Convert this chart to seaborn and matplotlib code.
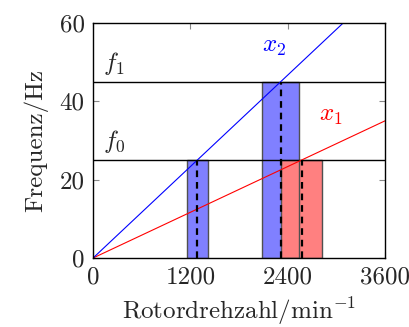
import matplotlib
matplotlib.use("Agg")
import matplotlib.pyplot as plt
import seaborn as sns
import pandas as pd

# data
speed = [0, 3600]              # Rotordrehzahl / min^-1
x1_freq = [0, 35]              # order line x1 (Hz)
x2_freq = [0, 70]              # order line x2 (Hz)
f0 = 25
f1 = 45
res_speed = [1286, 2314, 2571]          # resonance speeds
res_freq = [25, 45, 25]                 # resonance frequencies
res_color = ["#8080FF", "#8080FF", "#FF8080"]
band_rel = 0.10                         # +-10 % band
xticks = [0, 1200, 2400, 3600]
yticks = [0, 20, 40, 60]

sns.set_theme(style="white")
plt.rcParams.update({
    "font.family": "serif",
    "font.serif": ["cmr10", "DejaVu Serif"],
    "mathtext.fontset": "cm",
    "axes.formatter.use_mathtext": True,
    "font.size": 18,
})

FS = 18
fig = plt.figure(figsize=(4.10, 3.27), dpi=100)
ax = fig.add_axes([0.227, 0.211, 0.712, 0.719])

df = pd.DataFrame({"n": speed * 2,
                   "f": x1_freq + x2_freq,
                   "ord": ["x1"] * 2 + ["x2"] * 2})
sns.lineplot(data=df, x="n", y="f", hue="ord", palette={"x1": "red", "x2": "blue"},
             linewidth=0.8, legend=False, ax=ax, zorder=3)

for f in (f0, f1):
    ax.axhline(f, color="black", linewidth=1.0, zorder=2.5)

for i, (n, f, c) in enumerate(zip(res_speed, res_freq, res_color)):
    lo, hi = n * (1 - band_rel), n * (1 + band_rel)
    ax.bar(lo, f, width=hi - lo, align="edge", color=c,
           linewidth=0, zorder=1 + 0.1 * i)
for n, f in zip(res_speed, res_freq):
    lo, hi = n * (1 - band_rel), n * (1 + band_rel)
    ax.bar(lo, f, width=hi - lo, align="edge", facecolor="none",
           edgecolor="#505050", linewidth=1.0, zorder=2)
for n, f in zip(res_speed, res_freq):
    ax.plot([n, n], [0, f], color="black", linewidth=1.6,
            linestyle=(0, (3, 2.2)), zorder=4)

ax.text(120, 46.3, r"$f_1$", fontsize=FS, ha="left", va="bottom")
ax.text(120, 26.3, r"$f_0$", fontsize=FS, ha="left", va="bottom")
ax.text(2226, 53.8, r"$x_2$", fontsize=FS, color="blue", ha="center", va="center")
ax.text(2935, 36.2, r"$x_1$", fontsize=FS, color="red", ha="center", va="center")

ax.set_xlim(0, 3600)
ax.set_ylim(0, 60)
ax.set_xticks(xticks)
ax.set_yticks(yticks)
ax.set_xticklabels([str(t) for t in xticks])
ax.set_yticklabels([str(t) for t in yticks])
ax.tick_params(direction="in", length=4, width=0.8, color="#888888",
               top=True, right=True, bottom=True, left=True, labelsize=FS, pad=6)
for s in ax.spines.values():
    s.set_color("black")
    s.set_linewidth(1.0)
    s.set_zorder(5)
ax.set_xlabel(r"Rotordrehzahl/min$^{-1}$", fontsize=FS, labelpad=5)
ax.set_ylabel("Frequenz/Hz", fontsize=FS, labelpad=8)

fig.savefig("out.png", dpi=100)
